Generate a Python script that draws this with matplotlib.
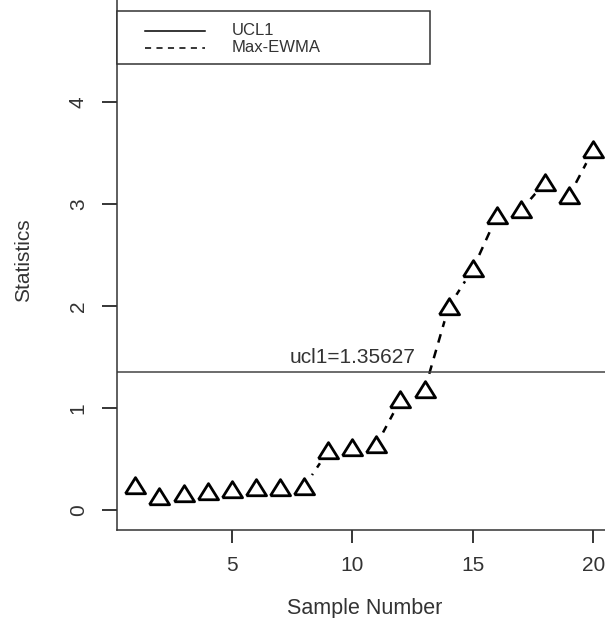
import matplotlib
matplotlib.use("Agg")
import matplotlib.pyplot as plt
from matplotlib.lines import Line2D
from matplotlib.patches import Rectangle
import numpy as np

plt.rcParams['font.family'] = ['Liberation Sans', 'DejaVu Sans']

# data
sample = np.arange(1, 21)
max_ewma = [0.235, 0.127, 0.157, 0.176, 0.196, 0.216, 0.216, 0.225, 0.578, 0.608,
            0.637, 1.078, 1.176, 1.99, 2.36, 2.88, 2.94, 3.21, 3.08, 3.53]
ucl1 = 1.35627
legend_labels = ["UCL1", "Max-EWMA"]

W, H = 605, 618
fig = plt.figure(figsize=(W / 100, H / 100), dpi=100)

# axes placed in pixel terms; right and top edges fall outside the picture
xlim = (0.24, 20.76)
ylim = (-0.196, 5.096)
px_x = 24.1
px_y = 102.0
left, bottom = 117, 88
width = (xlim[1] - xlim[0]) * px_x
height = (ylim[1] - ylim[0]) * px_y
ax = fig.add_axes([left / W, bottom / H, width / W, height / H])
ax.set_xlim(*xlim)
ax.set_ylim(*ylim)

grey = "#333333"

# slightly flattened triangle, like R's pch=2 here
tri = [(-1, -0.72), (1, -0.72), (0, 0.88), (-1, -0.72)]

# R type="b": dashed line with gaps round the points
ax.plot(sample, max_ewma, color="black", lw=1.8, dashes=(3.5, 3), zorder=2)
ax.plot(sample, max_ewma, ls="none", marker="o", ms=20, mfc="white", mec="white",
        zorder=2.1)
ax.plot(sample, max_ewma, ls="none", marker=tri, ms=14.5, mfc="none", mec="black",
        mew=2.0, zorder=3)

ax.axhline(ucl1, color="#444444", lw=1.1, zorder=2.2)
ax.text(10, ucl1 + 0.05, "ucl1=%g" % ucl1, ha="center", va="bottom",
        fontsize=15, color=grey)

ax.set_xticks([5, 10, 15, 20])
ax.set_yticks([0, 1, 2, 3, 4])
ax.tick_params(axis="x", length=9, width=1.1, pad=10, labelsize=15, labelcolor=grey)
ax.tick_params(axis="y", length=11, width=1.1, pad=10, labelsize=15, labelcolor=grey)
for lab in ax.get_yticklabels():
    lab.set_rotation(90)
    lab.set_va("center")
for s in ax.spines.values():
    s.set_linewidth(1.1)
    s.set_color("#333333")

ax.set_xlabel("Sample Number", fontsize=15.5, color=grey, labelpad=16.5)
ax.set_ylabel("Statistics", fontsize=15, color=grey, labelpad=26)

# legend box drawn the way R draws it (top left, wide frame)
def fx(x):
    return x / W

def fy(y):
    return 1 - y / H

fig.add_artist(Rectangle((fx(117), fy(64)), fx(430) - fx(117), fy(11) - fy(64),
                         transform=fig.transFigure, fill=True, fc="white",
                         ec="#333333", lw=1.1, zorder=5))
fig.add_artist(Line2D([fx(145), fx(205)], [fy(30.5), fy(30.5)], color="black",
                      lw=1.1, transform=fig.transFigure, zorder=6))
fig.add_artist(Line2D([fx(145), fx(205)], [fy(48), fy(48)], color="black",
                      lw=1.1, dashes=(4, 3.5), transform=fig.transFigure, zorder=6))
for i, lab in enumerate(legend_labels):
    fig.text(fx(232), fy(30.5 + 17.5 * i), lab, fontsize=12, color=grey,
             va="center", ha="left", zorder=6)

fig.savefig("out.png", dpi=100)
